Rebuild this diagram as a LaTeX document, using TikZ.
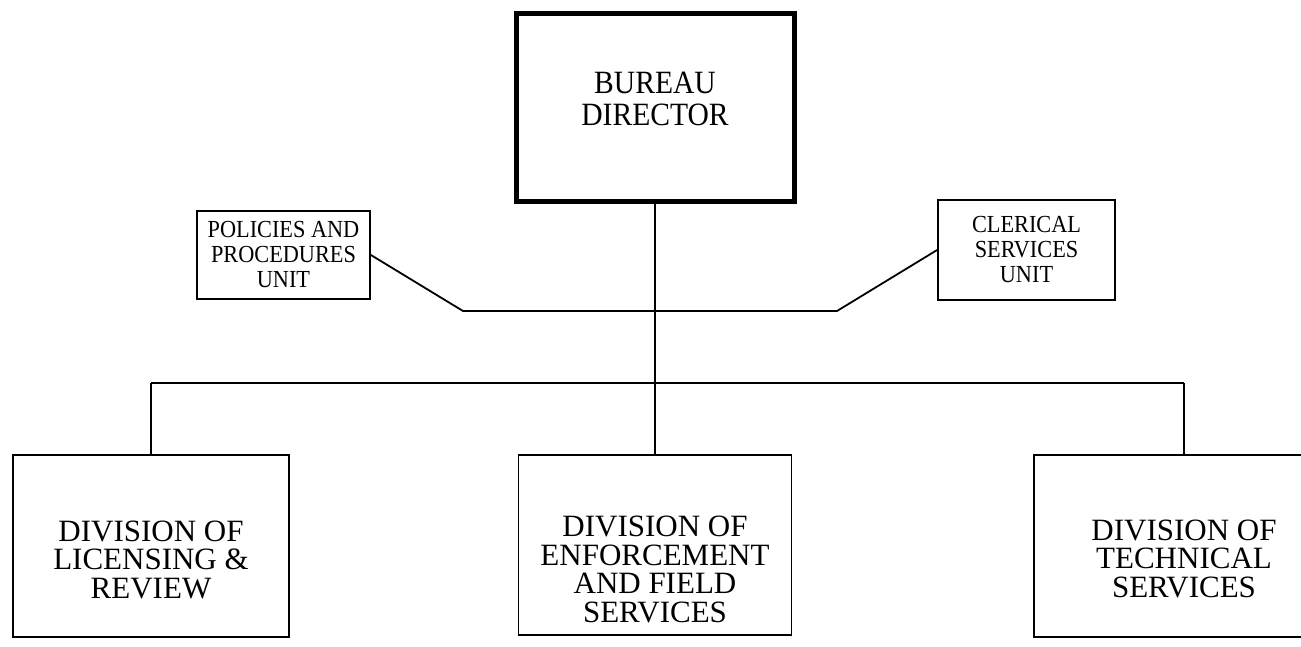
\documentclass[tikz,border=0pt]{standalone}
\usepackage{fontspec}
\setmainfont{Liberation Serif}
\newfontfamily\narrowfont[FakeStretch=0.91]{Liberation Serif}
\begin{document}
\begin{tikzpicture}[x=1pt,y=-1pt,
    wire/.style={line width=1.8pt},
    unitbox/.style={draw,line width=1.8pt,inner sep=0pt,align=center,
      font=\narrowfont\fontsize{24.5}{25}\selectfont},
    divbox/.style={draw,line width=1.8pt,inner sep=0pt,align=center,
      text depth=0pt,font=\fontsize{31}{28.5}\selectfont}]
  \def\busy{383}   % level of the division bus
  \path[use as bounding box,clip] (0,0) rectangle (1301,646);
  \node[draw,line width=5pt,inner sep=0pt,minimum width=278pt,minimum height=188pt,
    align=center,text height=36pt,text depth=0pt,
    font=\narrowfont\fontsize{32.5}{32}\selectfont] (dir) at (655,107) {BUREAU\\DIRECTOR};
  \node[unitbox,minimum width=173pt,minimum height=88pt] (pol) at (283.5,255)
    {POLICIES AND\\PROCEDURES\\UNIT};
  \node[unitbox,minimum width=177pt,minimum height=100pt] (cler) at (1026.5,250)
    {CLERICAL\\SERVICES\\UNIT};
  \node[divbox,minimum width=276pt,minimum height=182pt,text height=104pt] (lic) at (151,546)
    {DIVISION OF\\LICENSING \&\\REVIEW};
  \node[divbox,minimum width=273pt,minimum height=180pt,text height=154pt] (enf) at (655,545)
    {DIVISION OF\\ENFORCEMENT\\AND FIELD\\SERVICES};
  \node[divbox,minimum width=300pt,minimum height=182pt,text height=102pt] (tec) at (1184,546)
    {DIVISION OF\\TECHNICAL\\SERVICES};
  \coordinate (bus) at (655,\busy);
  \coordinate (sl) at (463,311);
  \coordinate (sr) at (837,311);
  \draw[wire] (dir) -- (enf);
  \draw[wire] (lic.north |- bus) -- (tec.north |- bus);
  \foreach \n in {lic,tec} { \draw[wire] (\n.north) -- (\n.north |- bus); }
  \draw[wire] (pol.east) -- (sl) -- (sr) -- (cler.west);
\end{tikzpicture}
\end{document}
